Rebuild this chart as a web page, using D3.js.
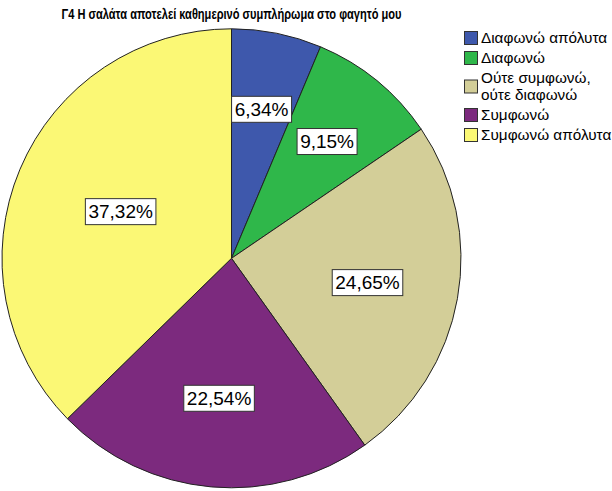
<!DOCTYPE html>
<html>
<head>
<meta charset="utf-8">
<script src="https://cdn.jsdelivr.net/npm/d3@7"></script>
<style>
  body { margin: 0; background: #fff; }
  text { font-family: "Liberation Sans", Arial, sans-serif; }
</style>
</head>
<body>
<div id="plot"></div>
<script>
// chart data
const title = "Γ4 Η σαλάτα αποτελεί καθημερινό συμπλήρωμα στο φαγητό μου";
const categories = ["Διαφωνώ απόλυτα", "Διαφωνώ", "Ούτε συμφωνώ, ούτε διαφωνώ", "Συμφωνώ", "Συμφωνώ απόλυτα"];
const legendLines = [["Διαφωνώ απόλυτα"], ["Διαφωνώ"], ["Ούτε συμφωνώ,", "ούτε διαφωνώ"], ["Συμφωνώ"], ["Συμφωνώ απόλυτα"]];
const percents = [6.34, 9.15, 24.65, 22.54, 37.32];
const colors = ["#3E58AC", "#2FB74A", "#D3CE98", "#7C2A7E", "#FBF875"];

const width = 612, height = 491;
const cx = 231.5, cy = 258.3, radius = 229.5;

const svg = d3.select("#plot").append("svg")
    .attr("width", width)
    .attr("height", height);

// title
svg.append("text")
   .attr("x", cx)
   .attr("y", 18.5)
   .attr("text-anchor", "middle")
   .attr("textLength", 340)
   .attr("lengthAdjust", "spacingAndGlyphs")
   .style("font-size", "14px")
   .style("font-weight", "bold")
   .text(title);

const data = categories.map((c, i) => ({ cat: c, value: percents[i], color: colors[i] }));

const pie = d3.pie().sort(null).value(d => d.value);
const arc = d3.arc().innerRadius(0).outerRadius(radius);
const arcs = pie(data);

const g = svg.append("g").attr("transform", `translate(${cx},${cy})`);

g.selectAll(".slice")
 .data(arcs)
 .enter()
 .append("path")
 .attr("class", "slice")
 .attr("d", arc)
 .style("fill", d => d.data.color)
 .style("stroke", "#222")
 .style("stroke-width", 1);

// labels sit at the area centroid of each slice
const fmt = v => v.toFixed(2).replace(".", ",") + "%";
const labels = g.selectAll(".lbl")
  .data(arcs)
  .enter()
  .append("g")
  .attr("class", "lbl")
  .attr("transform", d => {
    const th = d.endAngle - d.startAngle;
    const mid = (d.startAngle + d.endAngle) / 2;
    const dist = (2 / 3) * radius * Math.sin(th / 2) / (th / 2);
    return `translate(${dist * Math.sin(mid)},${-dist * Math.cos(mid)})`;
  });

labels.each(function(d) {
  const lg = d3.select(this);
  const rect = lg.append("rect");
  const t = lg.append("text")
    .attr("text-anchor", "middle")
    .attr("dy", "0.36em")
    .style("font-size", "19px")
    .text(fmt(d.data.value));
  const bb = t.node().getBBox();
  rect.attr("x", -bb.width / 2 - 3)
      .attr("y", -13)
      .attr("width", bb.width + 6)
      .attr("height", 26)
      .style("fill", "#fff")
      .style("stroke", "#333")
      .style("stroke-width", 1);
});

// legend
const legend = svg.append("g").attr("transform", "translate(464,0)");
let yPos = 38;
data.forEach((d, i) => {
  const lines = legendLines[i];
  const blockMid = yPos + (lines.length - 1) * 17 / 2;
  legend.append("rect")
    .attr("x", 0.5)
    .attr("y", blockMid - 6.5)
    .attr("width", 13)
    .attr("height", 13)
    .style("fill", d.color)
    .style("stroke", "#333")
    .style("stroke-width", 1);
  lines.forEach((ln, j) => {
    legend.append("text")
      .attr("x", 17)
      .attr("y", yPos + j * 17)
      .attr("dy", "0.35em")
      .style("font-size", "15.3px")
      .text(ln);
  });
  yPos += lines.length * 17 + 3;
});
</script>
</body>
</html>
